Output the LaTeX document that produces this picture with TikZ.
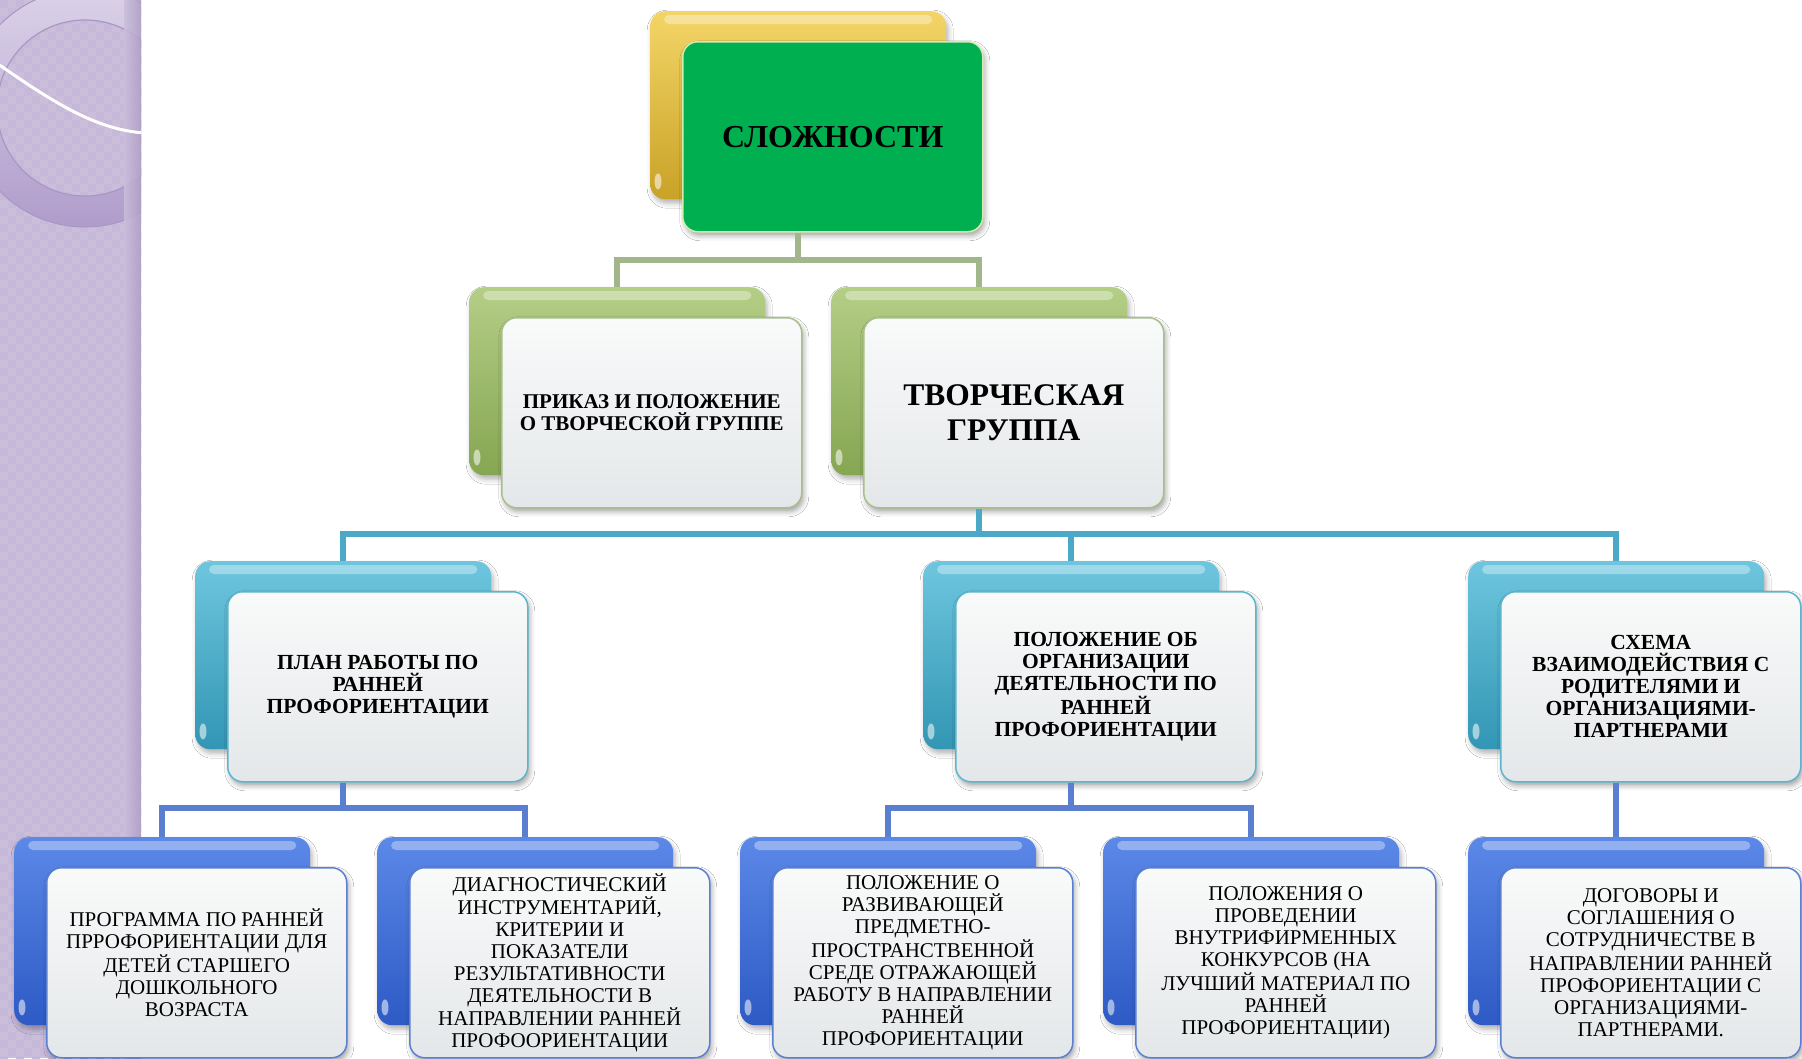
\documentclass[tikz,border=0pt]{standalone}
\usepackage{fontspec}
\setmainfont{Liberation Serif}
\usetikzlibrary{calc,shadows.blur}
\definecolor{goldT}{HTML}{F3D567}
\definecolor{goldB}{HTML}{C9A227}
\definecolor{greenF}{HTML}{00B050}
\definecolor{greenBd}{HTML}{D6EBB0}
\definecolor{oliveT}{HTML}{B4CE86}
\definecolor{oliveB}{HTML}{86A652}
\definecolor{cyanT}{HTML}{6EC6DE}
\definecolor{cyanB}{HTML}{3296B4}
\definecolor{blueT}{HTML}{5C88E8}
\definecolor{blueB}{HTML}{2D5AC4}
\definecolor{frontT}{HTML}{F9FAFA}
\definecolor{frontB}{HTML}{E4E7E9}
\definecolor{bdTwo}{HTML}{A9BF8A}
\definecolor{bdThree}{HTML}{5BB5CF}
\definecolor{bdFour}{HTML}{5A80D2}
\definecolor{connG}{HTML}{A1B68B}
\definecolor{connC}{HTML}{4BA8C6}
\definecolor{connB}{HTML}{5A7FD0}
\definecolor{stripc}{HTML}{CABEDB}
\definecolor{stripdark}{HTML}{C5B8D8}
\definecolor{stripedge}{HTML}{AE9DC4}
\definecolor{ringT}{HTML}{DAD2E8}
\definecolor{ringB}{HTML}{B09CCB}
\definecolor{ringline}{HTML}{A897C2}
\newcommand\glossbox[5]{%
  \node[backbox,top color=#4,bottom color=#5] (#1) at (#2,#3) {};
  \fill[white,opacity=0.35,rounded corners=5pt] ($(#1.north west)+(14,4)$) rectangle ($(#1.north east)+(-14,13)$);
  \fill[white,opacity=0.55] ($(#1.south west)+(8,-18)$) ellipse (3.5pt and 8pt);
}
\newcommand\checkerfill[1]{%
  \foreach \ci in {0,...,17}{\foreach \cj in {0,...,132}{%
    \pgfmathtruncatemacro\cpar{mod(\ci+\cj,2)}%
    \ifnum\cpar=0 \fill[#1] (\ci*8,\cj*8) rectangle ++(8,8);\fi}}%
}
\begin{document}
\begin{tikzpicture}[x=1pt,y=-1pt,
  backbox/.style={rounded corners=15pt,minimum width=296pt,minimum height=188pt,
    inner sep=0pt,anchor=north west,
    blur shadow={shadow xshift=2pt,shadow yshift=-4pt,shadow blur radius=5pt,shadow opacity=30}},
  frontbox/.style={rounded corners=15pt,minimum width=300pt,minimum height=190pt,
    inner sep=0pt,anchor=north west,align=center,line width=1.5pt,
    blur shadow={shadow xshift=2pt,shadow yshift=-4pt,shadow blur radius=5pt,shadow opacity=35}},
  glass/.style={top color=frontT,bottom color=frontB},
  boldsmall/.style={font=\bfseries\fontsize{21.5}{22}\selectfont},
  regsmall/.style={font=\fontsize{21}{22}\selectfont},
  gconn/.style={draw=connG,line width=6pt},
  cconn/.style={draw=connC,line width=6pt},
  bconn/.style={draw=connB,line width=6pt}]
\useasboundingbox (0,0) rectangle (1802,1058);
\fill[white] (0,0) rectangle (1802,1058);
\begin{scope}
  \clip (0,0) rectangle (141,1058);
  \fill[stripc] (0,0) rectangle (141,1058);
  \checkerfill{stripdark}
  \shade[top color=ringT,bottom color=ringB] (85,108) circle (119pt);
  \fill[stripc] (85,108) circle (88pt);
  \begin{scope}
    \clip (85,108) circle (88pt);
    \checkerfill{stripdark}
  \end{scope}
  \draw[ringline,line width=1.2pt] (85,108) circle (88pt);
  \draw[ringline,line width=1pt] (85,108) circle (119pt);
  \shade[left color=stripc,right color=stripedge,opacity=0.85] (124,0) rectangle (141,1058);
  \draw[white,line width=3pt] (-2,64) .. controls (50,100) and (95,130) .. (145,133);
\end{scope}

% level 1
\glossbox{topb}{650}{11}{goldT}{goldB}
\node[frontbox,fill=greenF,draw=greenBd,font=\bfseries\fontsize{32}{34}\selectfont] (topf) at (682,41) {СЛОЖНОСТИ};

% level 2
\glossbox{lab}{469}{287}{oliveT}{oliveB}
\node[frontbox,glass,draw=bdTwo,font=\bfseries\fontsize{21}{22}\selectfont] (laf) at (501,317) {ПРИКАЗ И ПОЛОЖЕНИЕ\\О ТВОРЧЕСКОЙ ГРУППЕ};
\glossbox{lbb}{831}{287}{oliveT}{oliveB}
\node[frontbox,glass,draw=bdTwo,font=\bfseries\fontsize{31.5}{34.5}\selectfont] (lbf) at (863,317) {ТВОРЧЕСКАЯ\\ГРУППА};

% level 3
\glossbox{pab}{195}{561}{cyanT}{cyanB}
\node[frontbox,glass,draw=bdThree,boldsmall] (paf) at (227,591) {ПЛАН РАБОТЫ ПО\\РАННЕЙ\\ПРОФОРИЕНТАЦИИ};
\glossbox{pbb}{923}{561}{cyanT}{cyanB}
\node[frontbox,glass,draw=bdThree,boldsmall] (pbf) at (955,591) {ПОЛОЖЕНИЕ ОБ\\ОРГАНИЗАЦИИ\\ДЕЯТЕЛЬНОСТИ ПО\\РАННЕЙ\\ПРОФОРИЕНТАЦИИ};
\glossbox{pcb}{1468}{561}{cyanT}{cyanB}
\node[frontbox,glass,draw=bdThree,boldsmall] (pcf) at (1500,591) {СХЕМА\\ВЗАИМОДЕЙСТВИЯ С\\РОДИТЕЛЯМИ И\\ОРГАНИЗАЦИЯМИ-\\ПАРТНЕРАМИ};

% level 4
\glossbox{qab}{14}{837}{blueT}{blueB}
\node[frontbox,glass,draw=bdFour,regsmall] (qaf) at (46,867) {ПРОГРАММА ПО РАННЕЙ\\ПРРОФОРИЕНТАЦИИ ДЛЯ\\ДЕТЕЙ СТАРШЕГО\\ДОШКОЛЬНОГО\\ВОЗРАСТА};
\glossbox{qbb}{377}{837}{blueT}{blueB}
\node[frontbox,glass,draw=bdFour,regsmall] (qbf) at (409,867) {ДИАГНОСТИЧЕСКИЙ\\ИНСТРУМЕНТАРИЙ,\\КРИТЕРИИ И\\ПОКАЗАТЕЛИ\\РЕЗУЛЬТАТИВНОСТИ\\ДЕЯТЕЛЬНОСТИ В\\НАПРАВЛЕНИИ РАННЕЙ\\ПРОФООРИЕНТАЦИИ};
\glossbox{qcb}{740}{837}{blueT}{blueB}
\node[frontbox,glass,draw=bdFour,regsmall] (qcf) at (772,867) {ПОЛОЖЕНИЕ О\\РАЗВИВАЮЩЕЙ\\ПРЕДМЕТНО-\\ПРОСТРАНСТВЕННОЙ\\СРЕДЕ ОТРАЖАЮЩЕЙ\\РАБОТУ В НАПРАВЛЕНИИ\\РАННЕЙ\\ПРОФОРИЕНТАЦИИ};
\glossbox{qdb}{1103}{837}{blueT}{blueB}
\node[frontbox,glass,draw=bdFour,regsmall] (qdf) at (1135,867) {ПОЛОЖЕНИЯ О\\ПРОВЕДЕНИИ\\ВНУТРИФИРМЕННЫХ\\КОНКУРСОВ (НА\\ЛУЧШИЙ МАТЕРИАЛ ПО\\РАННЕЙ\\ПРОФОРИЕНТАЦИИ)};
\glossbox{qeb}{1468}{837}{blueT}{blueB}
\node[frontbox,glass,draw=bdFour,regsmall] (qef) at (1500,867) {ДОГОВОРЫ И\\СОГЛАШЕНИЯ О\\СОТРУДНИЧЕСТВЕ В\\НАПРАВЛЕНИИ РАННЕЙ\\ПРОФОРИЕНТАЦИИ С\\ОРГАНИЗАЦИЯМИ-\\ПАРТНЕРАМИ.};

% connectors (from the lower edge of each front card to the top of each back card)
\coordinate (barone) at (0,260);
\coordinate (bartwo) at (0,534);
\coordinate (barthree) at (0,808);
\draw[gconn] (topb.south |- topf.south) -- (topb.south |- barone) -| (lab.north);
\draw[gconn] (topb.south |- barone) -| (lbb.north);
\draw[cconn] (lbb.south |- lbf.south) -- (lbb.south |- bartwo) -| (pab.north);
\draw[cconn] (lbb.south |- bartwo) -| (pcb.north);
\draw[cconn] (pbb.north |- bartwo) -- (pbb.north);
\draw[bconn] (pab.south |- paf.south) -- (pab.south |- barthree) -| (qab.north);
\draw[bconn] (pab.south |- barthree) -| (qbb.north);
\draw[bconn] (pbb.south |- pbf.south) -- (pbb.south |- barthree) -| (qcb.north);
\draw[bconn] (pbb.south |- barthree) -| (qdb.north);
\draw[bconn] (pcb.south |- pcf.south) -- (qeb.north);
\end{tikzpicture}
\end{document}
